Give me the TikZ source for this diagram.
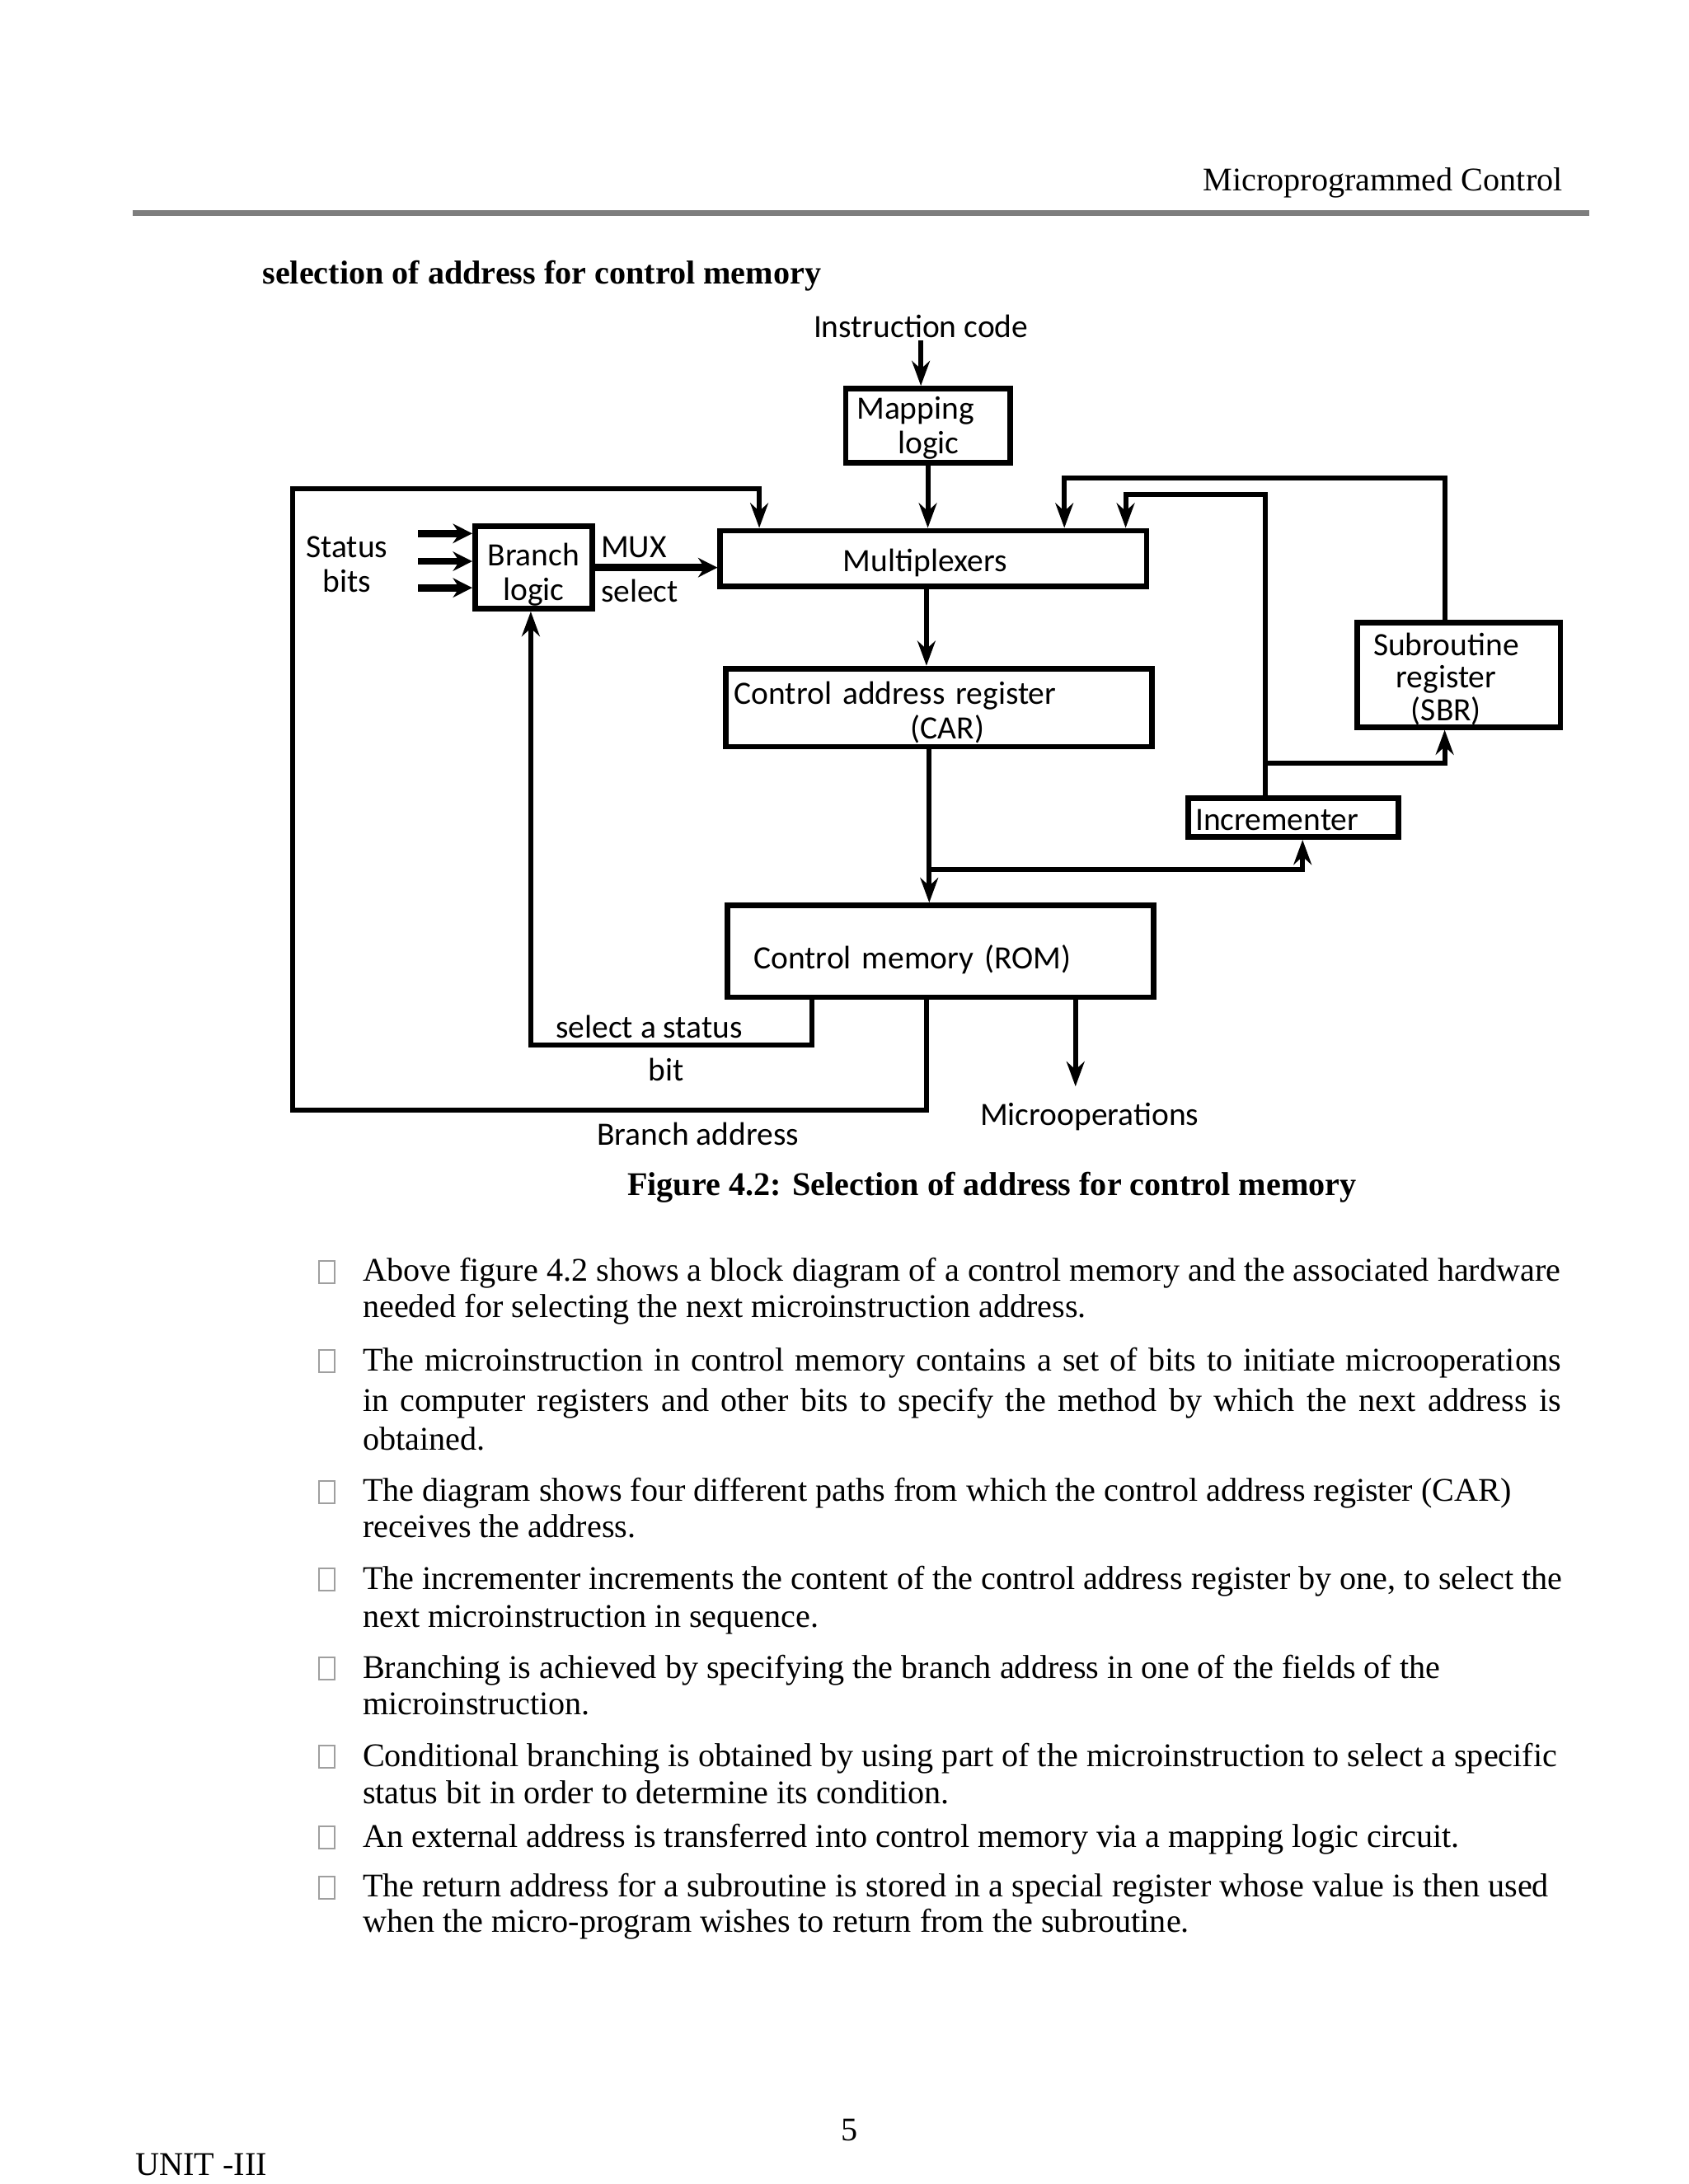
\documentclass[tikz,border=0pt]{standalone}
\usepackage{fontspec}
\setmainfont{Liberation Serif}
\newfontfamily\diag{Carlito}
\usetikzlibrary{arrows.meta,calc}
\newcommand\dn[2]{\raisebox{-#1}[\height][\depth]{#2}}
\newcommand\tl[1]{\begin{tabular}{@{}l@{}}#1\end{tabular}}
\newcommand\tc[1]{\begin{tabular}{@{}c@{}}#1\end{tabular}}
\begin{document}
\begin{tikzpicture}[x=0.50495pt,y=-0.50495pt,
  box/.style={draw,line width=2pt,inner sep=0pt,font=\diag\fontsize{11.8}{12.6}\selectfont},
  lbl/.style={inner sep=1pt,font=\diag\fontsize{11.8}{12.6}\selectfont,align=center},
  conn/.style={line width=1.8pt},
  arr/.style={conn,-{Stealth[length=9pt,width=6.5pt]}},
  fat/.style={line width=2.6pt,-{Stealth[length=7pt,width=7pt]}},
  bt/.style={anchor=base west,inner sep=0pt,font=\fontsize{12}{14}\selectfont},
  bul/.style={draw=gray!75,line width=0.6pt}
]
\useasboundingbox (0,0) rectangle (1212,1568);

% ---------- page header ----------
\node[anchor=base east,inner sep=0pt,font=\fontsize{12}{14}\selectfont] (hdr) at (1122,137) {Microprogrammed Control};
\fill[gray!55!black!70] (95,151) rectangle (1141,155);
\node[anchor=base west,inner sep=0pt,font=\bfseries\fontsize{12}{14}\selectfont] (ttl) at (188,204) {selection of address for control memory};

% ---------- diagram ----------
\node[lbl] (ic) at (661,234) {Instruction code};
\node[box,minimum width=59.6pt,minimum height=26.8pt,text width=59.6pt,align=left] (map) at (666,305.5)
  {\dn{1.5pt}{\tl{\hspace*{4pt}Mapping\\\hspace*{19pt}logic}}};
\node[box,minimum width=154.5pt,minimum height=20.2pt] (mux) at (670,401)
  {\hspace*{-6pt}\dn{1.5pt}{Multiplexers}};
\node[box,minimum width=42.4pt,minimum height=29.8pt] (br) at (383,407.5)
  {\dn{3pt}{\tc{Branch\\logic}}};
\node[box,minimum width=154.5pt,minimum height=28.3pt,text width=154.5pt,align=left] (car) at (674,508)
  {\dn{2.5pt}{\tl{\hspace*{3pt}Control address register\\\hspace*{67pt}(CAR)}}};
\node[box,minimum width=76.2pt,minimum height=14.1pt,text width=76.2pt,align=left] (inc) at (928.5,587)
  {\dn{1pt}{\hspace*{2.5pt}Incrementer}};
\node[box,minimum width=73.7pt,minimum height=37.9pt,font=\diag\fontsize{11.8}{11.4}\selectfont] (sbr) at (1047,484.5)
  {\hspace*{-9pt}\dn{2.5pt}{\tc{Subroutine\\register\\(SBR)}}};
\node[box,minimum width=154.5pt,minimum height=33.3pt,text width=154.5pt,align=left] (rom) at (675,683)
  {\dn{3pt}{\hspace*{9.6pt}Control memory (ROM)}};

\node[lbl] (sb) at (249,405) {Status\\bits};
\node[lbl,anchor=west,align=left,font=\diag\fontsize{11.8}{16}\selectfont] (ms) at (429,409) {MUX\\select};
\node[lbl] (ssb) at (466,737) {select a status};
\node[lbl] (bit) at (478,768) {bit};
\node[lbl] (ba) at (501,814) {Branch address};
\node[lbl] (mo) at (782,802) {Microoperations};

% helper coordinates
\coordinate (s1) at (300,383);
\coordinate (s2) at (300,403);
\coordinate (s3) at (300,422);
\coordinate (x545) at (545,0);
\coordinate (x583) at (583,0);
\coordinate (x381) at (381,0);
\coordinate (x665) at (665,0);
\coordinate (x667) at (667,0);
\coordinate (x764) at (764,0);
\coordinate (x772) at (772,0);
\coordinate (x808) at (808,0);
\coordinate (x908) at (908,0);
\coordinate (x935) at (935,0);
\coordinate (x1037) at (1037,0);
\coordinate (bl) at (210,797);
\coordinate (tl) at (210,351);
\coordinate (j1) at (667,624);
\coordinate (j2) at (908,548);

% connectors
\draw[arr] (ic.south) -- (ic.south |- map.north);
\draw[arr] (map.south) -- (map.south |- mux.north);
\draw[fat] (s1) -- (s1 -| br.west);
\draw[fat] (s2) -- (s2 -| br.west);
\draw[fat] (s3) -- (s3 -| br.west);
\draw[fat] (br.east) -- (br.east -| mux.west);
\draw[arr] (mux.south -| x665) -- (car.north -| x665);
\draw[arr] (car.south -| x667) -- (rom.north -| x667);
\draw[arr] (j1) -| (inc.south -| x935);
\draw[arr] (inc.north -| x908) -- (908,355) -- (808,355) -- (mux.north -| x808);
\draw[arr] (j2) -| (sbr.south -| x1037);
\draw[arr] (sbr.north -| x1037) |- (764,343) -- (mux.north -| x764);
\draw[arr] (rom.south -| x665) -- (665,797) -- (bl) -- (tl) -- (545,351) -- (mux.north -| x545);
\draw[arr] (rom.south -| x583) |- (381,750) -- (br.south -| x381);
\draw[arr] (rom.south -| x772) -- (772,780);

% caption
\node[anchor=base,inner sep=0pt,font=\bfseries\fontsize{12}{14}\selectfont] (cap) at (712,858)
  {Figure 4.2: Selection of address for control memory};

% ---------- bullet list ----------
\foreach \yy in {913,977,1071,1134,1198,1261,1319,1355}
  \draw[bul] (229,\yy-8) rectangle (240,\yy+8);

\node[bt] (l1a) at (260,920) {Above figure 4.2 shows a block diagram of a control memory and the associated hardware};
\node[bt] (l1b) at (260,946) {needed for selecting the next microinstruction address.};
\node[bt] (l2a) at (260,984) {\makebox[434.3pt][s]{The microinstruction in control memory contains a set of bits to initiate microoperations}};
\node[bt] (l2b) at (260,1013) {\makebox[434.3pt][s]{in computer registers and other bits to specify the method by which the next address is}};
\node[bt] (l2c) at (260,1041) {obtained.};
\node[bt] (l3a) at (260,1078) {The diagram shows four different paths from which the control address register (CAR)};
\node[bt] (l3b) at (260,1104) {receives the address.};
\node[bt] (l4a) at (260,1141) {The incrementer increments the content of the control address register by one, to select the};
\node[bt] (l4b) at (260,1168) {next microinstruction in sequence.};
\node[bt] (l5a) at (260,1205) {Branching is achieved by specifying the branch address in one of the fields of the};
\node[bt] (l5b) at (260,1231) {microinstruction.};
\node[bt] (l6a) at (260,1268) {Conditional branching is obtained by using part of the microinstruction to select a specific};
\node[bt] (l6b) at (260,1295) {status bit in order to determine its condition.};
\node[bt] (l7) at (260,1326) {An external address is transferred into control memory via a mapping logic circuit.};
\node[bt] (l8a) at (260,1362) {The return address for a subroutine is stored in a special register whose value is then used};
\node[bt] (l8b) at (260,1387) {when the micro-program wishes to return from the subroutine.};

% ---------- footer ----------
\node[anchor=base,inner sep=0pt,font=\fontsize{12}{14}\selectfont] (pg) at (610,1537) {5};
\node[anchor=base west,inner sep=0pt,font=\fontsize{12}{14}\selectfont] (unit) at (97,1562) {UNIT -III};
\end{tikzpicture}
\end{document}
